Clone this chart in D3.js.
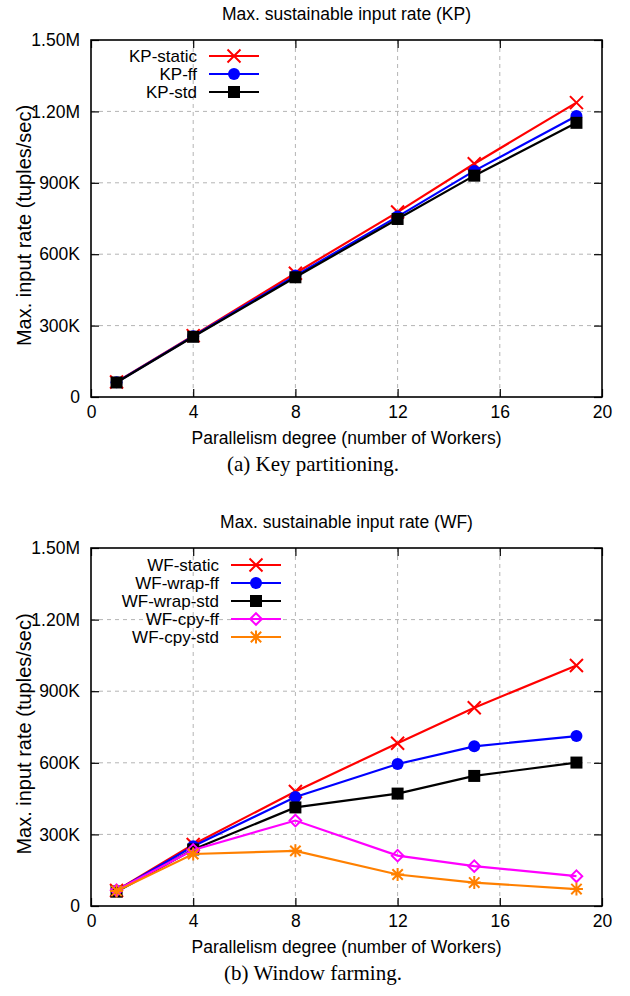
<!DOCTYPE html>
<html>
<head>
<meta charset="utf-8">
<script src="https://cdn.jsdelivr.net/npm/d3@7"></script>
<style>
  body { margin: 0; background: #fff; }
  svg { display: block; }
  .g-text { font-family: "Liberation Sans", Arial, sans-serif; fill: #000; }
  .caption { font-family: "Liberation Serif", "Times New Roman", serif; fill: #000; }
</style>
</head>
<body>
<div id="chart"></div>
<script>
// workers on the x axis (same for both panels)
const workers = [1, 4, 8, 12, 15, 19];
const xTicks = [0, 4, 8, 12, 16, 20];
const yTicks = [0, 300000, 600000, 900000, 1200000, 1500000];
const yTickLabels = ["0", "300K", "600K", "900K", "1.20M", "1.50M"];

// (a) key partitioning
const kpNames = ["KP-static", "KP-ff", "KP-std"];
const kpStatic = [63000, 258000, 520000, 777000, 980000, 1237000];
const kpFf = [62000, 255000, 510000, 758000, 950000, 1181000];
const kpStd = [61000, 253000, 503000, 748000, 930000, 1152000];

// (b) window farming
const wfNames = ["WF-static", "WF-wrap-ff", "WF-wrap-std", "WF-cpy-ff", "WF-cpy-std"];
const wfStatic = [65000, 258000, 480000, 682000, 831000, 1008000];
const wfWrapFf = [64000, 250000, 457000, 595000, 669000, 712000];
const wfWrapStd = [60000, 237000, 413000, 471000, 545000, 601000];
const wfCpyFf = [66000, 235000, 358000, 211000, 167000, 125000];
const wfCpyStd = [63000, 218000, 231000, 132000, 98000, 71000];

const W = 630, H = 996;
const svg = d3.select("#chart").append("svg")
    .attr("width", W)
    .attr("height", H);

svg.append("rect").attr("width", W).attr("height", H).attr("fill", "#fff");

// marker shapes, roughly like the gnuplot point types
function markerPath(type, s) {
    const p = d3.path();
    if (type === "x") {
        p.moveTo(-s, -s); p.lineTo(s, s);
        p.moveTo(-s, s); p.lineTo(s, -s);
    } else if (type === "star") {
        p.moveTo(-s, 0); p.lineTo(s, 0);
        p.moveTo(0, -s); p.lineTo(0, s);
        p.moveTo(-s * 0.8, -s * 0.8); p.lineTo(s * 0.8, s * 0.8);
        p.moveTo(-s * 0.8, s * 0.8); p.lineTo(s * 0.8, -s * 0.8);
    } else if (type === "diamond") {
        p.moveTo(0, -s); p.lineTo(s, 0); p.lineTo(0, s); p.lineTo(-s, 0); p.closePath();
    }
    return p.toString();
}

function drawMarker(g, type, color, x, y) {
    if (type === "circle") {
        g.append("circle").attr("cx", x).attr("cy", y).attr("r", 6).attr("fill", color);
    } else if (type === "square") {
        g.append("rect").attr("x", x - 6).attr("y", y - 6).attr("width", 12).attr("height", 12).attr("fill", color);
    } else if (type === "diamond") {
        g.append("path").attr("transform", `translate(${x},${y})`)
            .attr("d", markerPath("diamond", 5.8))
            .attr("fill", "none").attr("stroke", color).attr("stroke-width", 2);
    } else {
        g.append("path").attr("transform", `translate(${x},${y})`)
            .attr("d", markerPath(type, 6.5))
            .attr("fill", "none").attr("stroke", color).attr("stroke-width", 2);
    }
}

function drawPanel(cfg) {
    const { top, bottom, left, right } = cfg;
    const g = svg.append("g");

    const x = d3.scaleLinear().domain([0, 20]).range([left, right]);
    const y = d3.scaleLinear().domain([0, 1500000]).range([bottom, top]);

    // grid
    const grid = g.append("g").attr("stroke", "#b4b4b4").attr("stroke-width", 1)
        .attr("stroke-dasharray", "4,4");
    xTicks.slice(1, -1).forEach(t => {
        grid.append("line").attr("x1", x(t)).attr("x2", x(t)).attr("y1", top).attr("y2", bottom);
    });
    yTicks.slice(1, -1).forEach(t => {
        grid.append("line").attr("x1", left).attr("x2", right).attr("y1", y(t)).attr("y2", y(t));
    });

    // axes via d3 with inward ticks, then mirrored ones
    const tickLen = 8;
    const xAxis = g.append("g").attr("transform", `translate(0,${bottom})`)
        .call(d3.axisBottom(x).tickValues(xTicks).tickSizeInner(-tickLen).tickSizeOuter(0).tickPadding(9));
    const xAxisTop = g.append("g").attr("transform", `translate(0,${top})`)
        .call(d3.axisTop(x).tickValues(xTicks).tickSizeInner(-tickLen).tickSizeOuter(0).tickFormat(""));
    const yAxis = g.append("g").attr("transform", `translate(${left},0)`)
        .call(d3.axisLeft(y).tickValues(yTicks).tickSizeInner(-tickLen).tickSizeOuter(0)
            .tickPadding(11).tickFormat((d, i) => yTickLabels[i]));
    const yAxisRight = g.append("g").attr("transform", `translate(${right},0)`)
        .call(d3.axisRight(y).tickValues(yTicks).tickSizeInner(-tickLen).tickSizeOuter(0).tickFormat(""));

    [xAxis, xAxisTop, yAxis, yAxisRight].forEach(a => {
        a.select(".domain").remove();
        a.selectAll(".tick line").attr("stroke", "#000").attr("stroke-width", 1.2);
        a.selectAll("text").attr("class", "g-text").style("font-size", "17.5px")
            .attr("font-family", null);
    });
    xAxis.selectAll("text").attr("dy", "0.71em");

    // frame
    g.append("rect").attr("x", left).attr("y", top)
        .attr("width", right - left).attr("height", bottom - top)
        .attr("fill", "none").attr("stroke", "#000").attr("stroke-width", 1.6);

    // series
    const line = d3.line().x((d, i) => x(workers[i])).y(d => y(d));
    cfg.series.forEach(s => {
        const sg = g.append("g");
        sg.append("path").attr("d", line(s.values))
            .attr("fill", "none").attr("stroke", s.color).attr("stroke-width", 2.2);
        s.values.forEach((v, i) => drawMarker(sg, s.marker, s.color, x(workers[i]), y(v)));
    });

    // legend
    const lg = g.append("g");
    cfg.series.forEach((s, i) => {
        const ly = cfg.legendTop + i * 18;
        lg.append("text").attr("class", "g-text").attr("x", cfg.legendTextX).attr("y", ly)
            .attr("dy", "0.35em").attr("text-anchor", "end").style("font-size", "17px").text(s.name);
        lg.append("line").attr("x1", cfg.legendTextX + 12).attr("x2", cfg.legendTextX + 62)
            .attr("y1", ly).attr("y2", ly).attr("stroke", s.color).attr("stroke-width", 2.2);
        drawMarker(lg, s.marker, s.color, cfg.legendTextX + 37, ly);
    });

    // texts
    g.append("text").attr("class", "g-text").attr("x", (left + right) / 2).attr("y", top - 20)
        .attr("text-anchor", "middle").style("font-size", "17.5px").text(cfg.title);
    g.append("text").attr("class", "g-text").attr("x", (left + right) / 2).attr("y", bottom + 47)
        .attr("text-anchor", "middle").style("font-size", "17.5px")
        .text("Parallelism degree (number of Workers)");
    g.append("text").attr("class", "g-text")
        .attr("transform", `translate(31,${(top + bottom) / 2 + 7}) rotate(-90)`)
        .attr("text-anchor", "middle").style("font-size", "20px")
        .text("Max. input rate (tuples/sec)");
    g.append("text").attr("class", "caption").attr("x", 313).attr("y", bottom + 74)
        .attr("text-anchor", "middle").style("font-size", "21px").text(cfg.caption);
}

const colors = ["#ff0000", "#0000ff", "#000000", "#ff00ff", "#ff8000"];
const markers = ["x", "circle", "square", "diamond", "star"];

drawPanel({
    top: 40, bottom: 397, left: 91, right: 602,
    title: "Max. sustainable input rate (KP)",
    caption: "(a) Key partitioning.",
    legendTop: 56, legendTextX: 197,
    series: [kpStatic, kpFf, kpStd].map((v, i) => ({
        name: kpNames[i], values: v, color: colors[i], marker: markers[i]
    }))
});

drawPanel({
    top: 548, bottom: 906, left: 91, right: 602,
    title: "Max. sustainable input rate (WF)",
    caption: "(b) Window farming.",
    legendTop: 565, legendTextX: 219,
    series: [wfStatic, wfWrapFf, wfWrapStd, wfCpyFf, wfCpyStd].map((v, i) => ({
        name: wfNames[i], values: v, color: colors[i], marker: markers[i]
    }))
});
</script>
</body>
</html>
